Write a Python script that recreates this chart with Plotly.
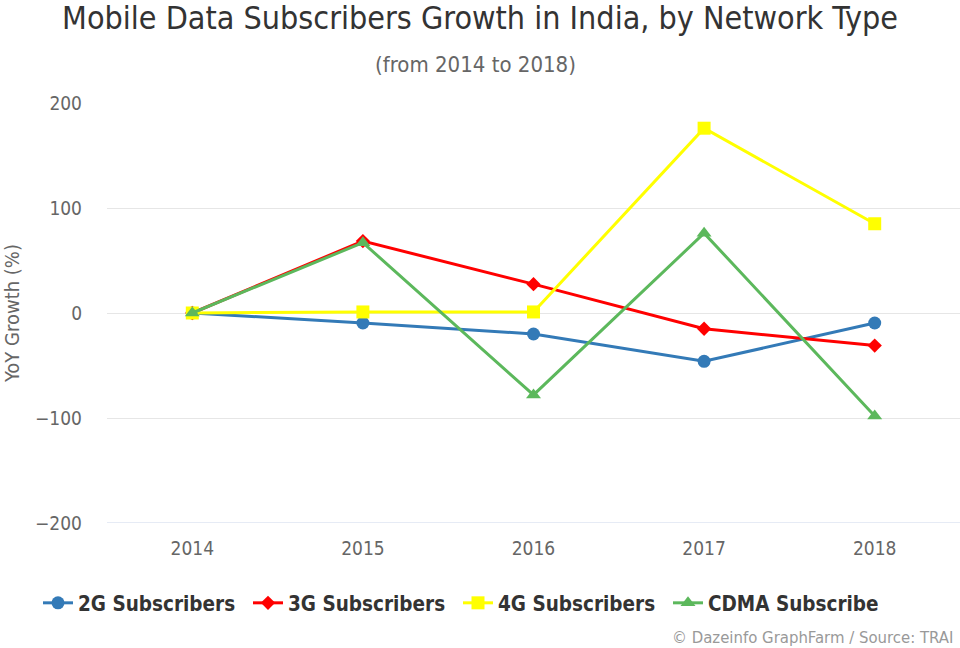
import plotly.graph_objects as go

years = ["2014", "2015", "2016", "2017", "2018"]
g2 = [0, -9.5, -20, -46, -9.5]
g3 = [0, 68.5, 27.5, -15, -31]
g4 = [0, 1, 1, 176, 85]
cdma = [0, 67, -78, 76, -98]

series = [
    ("2G Subscribers", g2, "#337ab7", "circle", 13),
    ("3G Subscribers", g3, "#ff0000", "diamond", 11),
    ("4G Subscribers", g4, "#ffff00", "square", 13),
    ("CDMA Subscribers", cdma, "#5cb85c", "triangle-up", 13),
]

COND = "DejaVu Sans Condensed, DejaVu Sans, sans-serif"

L, R, T, B = 107, 0, 103, 125
PH = 648 - T - B
PW = 960 - L - R


def py(pix):
    return (648 - B - pix) / PH


def px(pix):
    return (pix - L) / PW


fig = go.Figure()
for name, vals, color, sym, sz in series:
    fig.add_trace(go.Scatter(
        x=years, y=vals, name=name, mode="lines+markers",
        line=dict(color=color, width=3),
        marker=dict(color=color, symbol=sym, size=sz),
    ))

fig.update_layout(
    width=960, height=648,
    paper_bgcolor="white", plot_bgcolor="white",
    margin=dict(l=L, r=R, t=T, b=B, autoexpand=False),
    title=dict(text="Mobile Data Subscribers Growth in India, by Network Type",
               x=0.5, xanchor="center", y=1 - 18/648, yanchor="middle",
               font=dict(family=COND, size=32, color="#333333")),
    showlegend=True,
    legend=dict(orientation="h", x=38/960, xanchor="left", xref="container",
                y=1 - 603/648, yref="container", yanchor="middle",
                font=dict(family=COND, size=20.5, color="#333333", weight="bold"),
                itemwidth=30, tracegroupgap=0, entrywidth=165, entrywidthmode="pixels"),
    xaxis=dict(type="category", range=[-0.5, 4.5], showgrid=False,
               showline=False, zeroline=False, ticks="", automargin=False,
               ticklabelstandoff=12,
               tickfont=dict(family=COND, size=19, color="#666666")),
    yaxis=dict(range=[-200, 200], tickvals=[-200, -100, 0, 100, 200],
               ticktext=["\u2212200", "\u2212100", "0", "100", "200"],
               showgrid=True, gridcolor="#e6e6e6", gridwidth=1,
               zeroline=False, showline=False, ticks="", automargin=False,
               ticklabelstandoff=24,
               tickfont=dict(family=COND, size=19, color="#666666"),
               title=dict(text="YoY Growth (%)", standoff=10,
                          font=dict(family=COND, size=20, color="#666666"))),
    annotations=[
        dict(text="(from 2014 to 2018)", xref="paper", yref="paper",
             x=px(475), y=py(64), xanchor="center", yanchor="middle",
             showarrow=False, font=dict(family=COND, size=22, color="#666666")),
        dict(text="\u00a9 Dazeinfo GraphFarm / Source: TRAI", xref="paper", yref="paper",
             x=px(955), y=py(637), xanchor="right", yanchor="middle",
             showarrow=False, font=dict(family=COND, size=16.6, color="#999999")),
    ],
    shapes=[dict(type="line", xref="paper", yref="y", x0=0, x1=1, y0=-200, y1=-200,
                 line=dict(color="#ccd6eb", width=1), layer="below")],
)

fig.write_html("out.html", config={"displayModeBar": False},
               post_script="document.body.style.margin='0';")
